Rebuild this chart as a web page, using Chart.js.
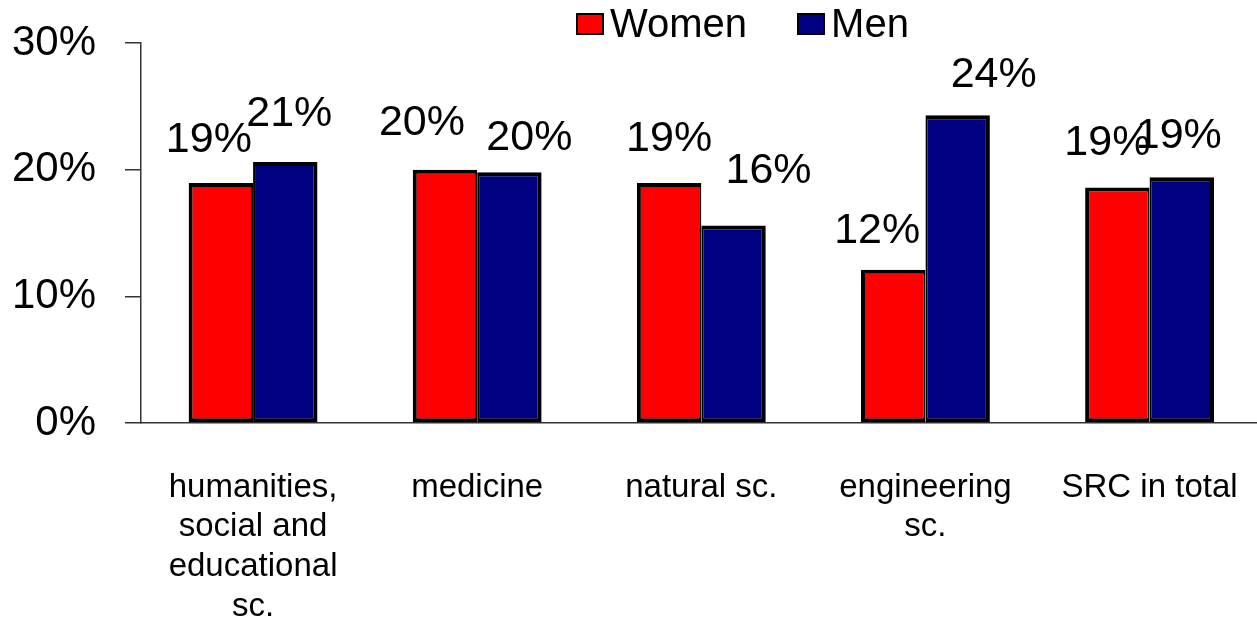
<!DOCTYPE html>
<html>
<head>
<meta charset="utf-8">
<script src="https://cdn.jsdelivr.net/npm/chart.js@4/dist/chart.umd.min.js"></script>
<style>
  html, body { margin: 0; padding: 0; background: #fff; overflow: hidden; }
  #wrap { position: absolute; left: 0; top: 0; width: 1275px; height: 620px; }
  #legend {
    position: absolute; left: 576px; top: 3px; display: flex; align-items: center;
    font-family: 'Liberation Sans', Arial, sans-serif; font-size: 40px; line-height: 40px; color: #000;
  }
  #legend .item { display: flex; align-items: center; margin-right: 50px; }
  #legend .box { width: 24px; height: 18px; border: 2px solid #000; margin-right: 6px; margin-top: 2px; }
</style>
</head>
<body>
<div id="wrap"><canvas id="c"></canvas></div>
<div id="legend"></div>
<script>
  const FONT = "'Liberation Sans', Arial, sans-serif";

  // data
  const categories = [
    ['humanities,', 'social and', 'educational', 'sc.'],
    'medicine',
    'natural sc.',
    ['engineering', 'sc.'],
    'SRC in total'
  ];
  const seriesNames = ['Women', 'Men'];
  const seriesColors = ['#ff0000', '#000080'];
  const women = [18.95, 20.0, 18.95, 12.1, 18.6];
  const men = [20.6, 19.8, 15.6, 24.3, 19.4];
  const yTicks = [0, 10, 20, 30];

  // label offsets (manual placement as in the original)
  const labelDx = [[-12, -23, 0, -16, -10], [4, 20, 35, 36, -3]];
  const labelDy = [[-31, -35, -32, -27, -32], [-36, -22, -42, -28, -29]];

  // html legend
  const legendEl = document.getElementById('legend');
  seriesNames.forEach((name, i) => {
    const item = document.createElement('div');
    item.className = 'item';
    const box = document.createElement('div');
    box.className = 'box';
    box.style.background = seriesColors[i];
    const txt = document.createElement('span');
    txt.textContent = name;
    item.appendChild(box);
    item.appendChild(txt);
    legendEl.appendChild(item);
  });

  const valueLabels = {
    id: 'valueLabels',
    afterDatasetsDraw(chart) {
      const { ctx } = chart;
      ctx.save();
      ctx.font = '43px ' + FONT;
      ctx.fillStyle = '#000';
      ctx.textAlign = 'center';
      ctx.textBaseline = 'alphabetic';
      chart.data.datasets.forEach((ds, d) => {
        chart.getDatasetMeta(d).data.forEach((bar, i) => {
          ctx.fillText(Math.round(ds.data[i]) + '%', bar.x + labelDx[d][i], bar.y + labelDy[d][i]);
        });
      });
      ctx.restore();
    }
  };

  new Chart(document.getElementById('c'), {
    type: 'bar',
    plugins: [valueLabels],
    data: {
      labels: categories,
      datasets: [
        {
          label: seriesNames[0], data: women, backgroundColor: seriesColors[0],
          borderColor: '#000', borderWidth: { top: 4, left: 4, bottom: 4, right: 2 }, borderSkipped: false
        },
        {
          label: seriesNames[1], data: men, backgroundColor: seriesColors[1],
          borderColor: '#000', borderWidth: { top: 4, left: 2, bottom: 4, right: 4 }, borderSkipped: false
        }
      ]
    },
    options: {
      responsive: true,
      maintainAspectRatio: false,
      animation: false,
      categoryPercentage: 0.575,
      barPercentage: 1,
      layout: { padding: { top: 43, right: 4, bottom: 0, left: 0 } },
      plugins: { legend: { display: false }, tooltip: { enabled: false } },
      scales: {
        x: {
          grid: { display: false },
          border: { display: true, color: '#333', width: 1.5 },
          ticks: {
            color: '#000', font: { family: FONT, size: 33, lineHeight: 1.2 },
            padding: 37, maxRotation: 0, autoSkip: false
          },
          afterFit: s => { s.height = 197; }
        },
        y: {
          min: 0, max: 30,
          afterBuildTicks: s => { s.ticks = yTicks.map(v => ({ value: v })); },
          grid: { drawOnChartArea: false, drawTicks: true, tickLength: 16, color: '#333', lineWidth: 1.5 },
          border: { display: true, color: '#333', width: 1.5 },
          ticks: {
            color: '#000', font: { family: FONT, size: 42 }, padding: 29,
            callback: v => v + '%'
          },
          afterFit: s => { s.width = 141; s.paddingTop = 0; s.paddingBottom = 0; }
        }
      }
    }
  });
</script>
</body>
</html>
